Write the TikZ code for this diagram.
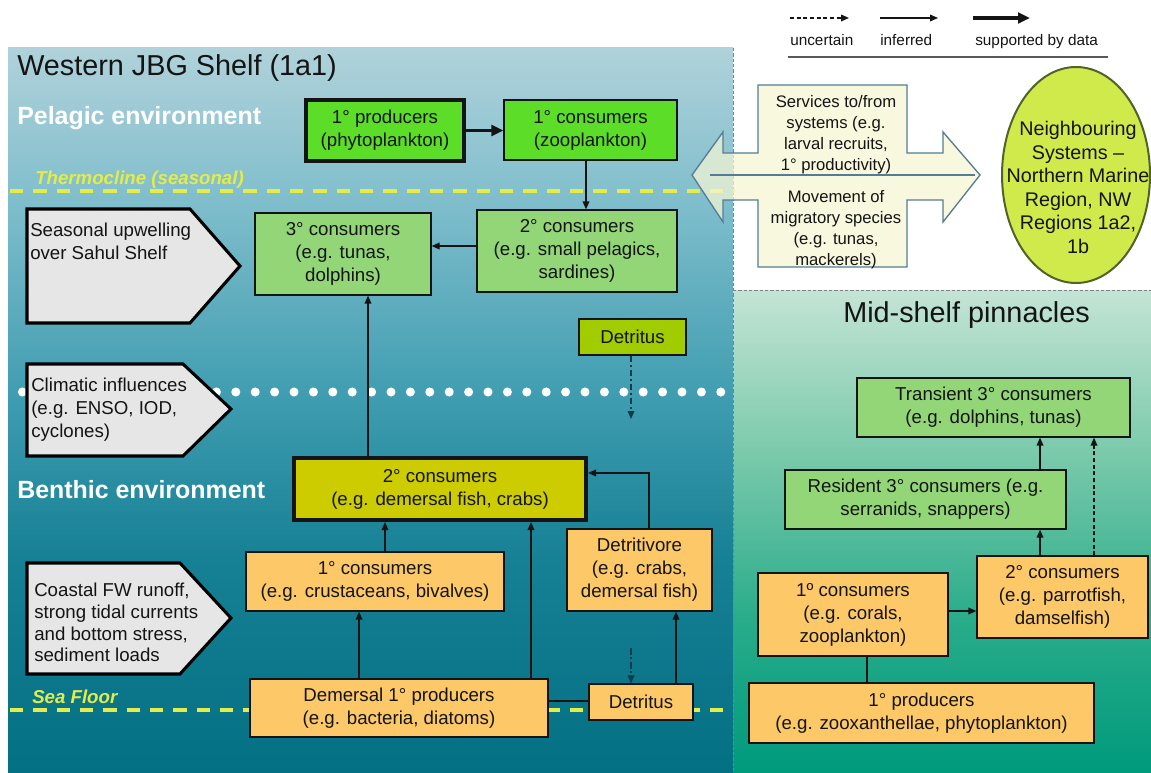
\documentclass[tikz,border=0pt]{standalone}
\usepackage{fontspec}
\setmainfont{Liberation Sans}
\usetikzlibrary{arrows.meta,calc,shapes.geometric}

% palette
\definecolor{ink}{RGB}{20,20,20}
\definecolor{brightgreen}{RGB}{92,222,40}
\definecolor{leafgreen}{RGB}{146,214,120}
\definecolor{sandy}{RGB}{252,200,104}
\definecolor{olivefill}{RGB}{204,204,0}
\definecolor{detritusgreen}{RGB}{160,204,0}
\definecolor{driverfill}{RGB}{230,230,230}
\definecolor{seayellow}{RGB}{228,236,72}
\definecolor{deepteal}{RGB}{10,60,75}
\definecolor{cream}{RGB}{246,246,212}
\definecolor{arrowblue}{RGB}{84,124,150}
\definecolor{nbrfill}{RGB}{208,234,76}
\definecolor{nbrline}{RGB}{82,98,40}
\definecolor{seaA}{RGB}{176,210,218}
\definecolor{seaB}{RGB}{128,190,204}
\definecolor{seaC}{RGB}{62,156,176}
\definecolor{seaD}{RGB}{22,128,148}
\definecolor{seaE}{RGB}{4,112,132}
\definecolor{pinA}{RGB}{196,228,214}
\definecolor{pinB}{RGB}{124,202,172}
\definecolor{pinC}{RGB}{40,172,138}
\definecolor{pinD}{RGB}{0,154,124}

% water-column backgrounds (25bp = bottom edge, 75bp = top edge of the filled area)
\pgfdeclareverticalshading{shelfsea}{100bp}{color(0bp)=(seaE); color(25bp)=(seaE);
  color(39.7bp)=(seaD); color(50.7bp)=(seaC); color(64.5bp)=(seaB);
  color(75bp)=(seaA); color(100bp)=(seaA)}
\pgfdeclareverticalshading{pinnsea}{100bp}{color(0bp)=(pinD); color(25bp)=(pinD);
  color(40.8bp)=(pinC); color(58.4bp)=(pinB); color(75bp)=(pinA); color(100bp)=(pinA)}

\tikzset{
  bx/.style={draw=ink, line width=0.9pt, inner sep=0pt, align=center,
    font=\fontsize{14}{17.25}\selectfont, text=ink},
  pgreen/.style={bx, fill=brightgreen},
  lgreen/.style={bx, fill=leafgreen},
  sand/.style={bx, fill=sandy},
  heavy/.style={line width=3pt},
  flow/.style={draw=ink, line width=1pt, -{Triangle[length=6pt,width=5pt]}},
  flowthick/.style={draw=ink, line width=2.8pt, -{Triangle[length=9pt,width=8pt]}},
  unsure/.style={flow, dash pattern=on 3pt off 2pt},
  dashdot/.style={flow, draw=deepteal, dash pattern=on 5pt off 2pt on 1.5pt off 2pt},
  link/.style={draw=ink, line width=1pt},
  driver/.style={draw=black, line width=2.3pt, fill=driverfill, line join=miter},
  drivertext/.style={anchor=north west, inner sep=0pt, align=left, text=ink,
    font=\fontsize{14}{17}\selectfont},
  yellowline/.style={draw=seayellow, line width=2.3pt, dash pattern=on 10pt off 7.5pt},
  yellowlabel/.style={text=seayellow, font=\fontsize{14}{17}\selectfont\bfseries\itshape,
    anchor=base west, inner sep=0pt},
  envlabel/.style={text=white, font=\fontsize{18.7}{22}\selectfont\bfseries,
    anchor=base west, inner sep=0pt},
  bigtitle/.style={text=ink, font=\fontsize{21.6}{26}\selectfont, anchor=base west, inner sep=0pt},
  legendtext/.style={text=ink, font=\fontsize{11.5}{14}\selectfont, anchor=base west, inner sep=0pt},
  smalltext/.style={text=ink, font=\fontsize{12.5}{15.75}\selectfont, align=center,
    anchor=north, inner sep=0pt},
  panelrule/.style={draw=gray, line width=0.6pt, dash pattern=on 2.5pt off 1.5pt},
}

\begin{document}
\begin{tikzpicture}[x=0.75pt,y=-0.75pt]
\path[use as bounding box] (0,0) rectangle (1151,773);
\clip (0,0) rectangle (1151,773);
\fill[white] (0,0) rectangle (1151,773);

% ---- panels ----
\shade[shading=shelfsea] (8,48) rectangle (733,773);
\shade[shading=pinnsea] (733,290) rectangle (1151,773);
\draw[panelrule] (733,48) -- (733,773);
\draw[panelrule] (733,290) -- (1151,290);

% ---- layer boundaries ----
\draw[yellowline] (10,191) -- (735,191);
\draw[yellowline] (10,710) -- (733,710);
\foreach \i in {0,...,37}
  \fill[white] (3+19.4*\i,392) circle[radius=3.4pt];

% ---- headings ----
\node[bigtitle] (shelf) at (17,76) {Western JBG Shelf (1a1)};
\node[envlabel] (pelagic) at (17,125) {Pelagic environment};
\node[yellowlabel] (thermo) at (35,185) {Thermocline (seasonal)};
\node[envlabel] (benthic) at (17,498) {Benthic environment};
\node[yellowlabel] (floor) at (32,703) {Sea Floor};
\node[bigtitle] (pinn) at (843,322) {Mid-shelf pinnacles};

% ---- external drivers ----
\draw[driver] (27,209) -- (190,209) -- (240,266) -- (190,323) -- (27,323) -- cycle;
\draw[driver] (27,364) -- (183,364) -- (231,409) -- (183,456) -- (27,456) -- cycle;
\draw[driver] (27,563) -- (180,563) -- (231,618) -- (180,674) -- (27,674) -- cycle;
\node[drivertext] (upw) at (30,223) {Seasonal upwelling\\over Sahul Shelf};
\node[drivertext] (clim) at (31,378) {Climatic influences\\(e.g. ENSO, IOD,\\cyclones)};
\node[drivertext, font=\fontsize{14}{16.3}\selectfont] (coast) at (34,583)
  {Coastal FW runoff,\\strong tidal currents\\and bottom stress,\\sediment loads};

% ---- legend ----
\coordinate (lu0) at (790,18);  \coordinate (lu1) at (849,18);
\coordinate (li0) at (880,18);  \coordinate (li1) at (938,18);
\coordinate (ls0) at (973,18);  \coordinate (ls1) at (1030,18);
\draw[unsure] (lu0) -- (lu1);
\draw[flow] (li0) -- (li1);
\draw[flowthick] (ls0) -- (ls1);
\node[legendtext] (lgu) at (790,46) {uncertain};
\node[legendtext] (lgi) at (880,46) {inferred};
\node[legendtext] (lgs) at (975,46) {supported by data};
\draw[gray!70!black, line width=1pt] (788,57) -- (1108,57);

% ---- exchange with neighbouring systems ----
\path[fill=cream, fill opacity=0.72, draw=arrowblue, line width=1pt, line join=miter]
  (692,175) -- (723,132) -- (723,153) -- (758,153) -- (758,85) -- (907,85)
  -- (907,153) -- (943,153) -- (943,132) -- (980,175) -- (943,222) -- (943,200)
  -- (907,200) -- (907,267) -- (758,267) -- (758,200) -- (723,200) -- (723,222) -- cycle;
\draw[arrowblue, line width=1pt] (710,175) -- (975,175);
\node[smalltext] (services) at (836,95)
  {Services to/from\\systems (e.g.\\larval recruits,\\1° productivity)};
\node[smalltext] (migr) at (836,190)
  {Movement of\\migratory species\\(e.g. tunas,\\mackerels)};

\node[draw=nbrline, line width=1.5pt, fill=nbrfill, ellipse, inner sep=0pt,
  minimum width=111pt, minimum height=162pt] (nbr) at (1076,175) {};
\node[anchor=north, inner sep=0pt, align=center, text=ink,
  font=\fontsize{14.8}{17.7}\selectfont] (nbrtext) at (1078,121)
  {Neighbouring\\Systems –\\Northern Marine\\Region, NW\\Regions 1a2,\\1b};

% ---- pelagic food web ----
\node[pgreen, heavy, minimum width=118.5pt, minimum height=45.75pt] (pprod) at (385,130.5)
  {1° producers\\(phytoplankton)};
\node[pgreen, minimum width=129.75pt, minimum height=45pt] (pzoo) at (590.5,130)
  {1° consumers\\(zooplankton)};
\node[lgreen, minimum width=150pt, minimum height=61.5pt] (psec) at (577,251)
  {2° consumers\\(e.g. small pelagics,\\sardines)};
\node[lgreen, minimum width=132pt, minimum height=61.5pt] (pter) at (343,254)
  {3° consumers\\(e.g. tunas,\\dolphins)};
\node[bx, fill=detritusgreen, minimum width=80.25pt, minimum height=27pt] (detup) at (632.5,337)
  {Detritus};

% ---- benthic food web ----
\node[bx, fill=olivefill, heavy, minimum width=219pt, minimum height=46.5pt] (bsec) at (440,489)
  {2° consumers\\(e.g. demersal fish, crabs)};
\node[sand, minimum width=193.5pt, minimum height=44.25pt] (bprim) at (375,581.5)
  {1° consumers\\(e.g. crustaceans, bivalves)};
\node[sand, minimum width=108.75pt, minimum height=61.5pt] (bdtv) at (639.5,570)
  {Detritivore\\(e.g. crabs,\\demersal fish)};
\node[sand, minimum width=223.5pt, minimum height=43.5pt] (bprod) at (399,708)
  {Demersal 1° producers\\(e.g. bacteria, diatoms)};
\node[sand, minimum width=78pt, minimum height=27pt] (bdet) at (641,702)
  {Detritus};

% ---- pinnacle food web ----
\node[lgreen, minimum width=204.75pt, minimum height=44.25pt] (mtrans) at (993.5,407.5)
  {Transient 3° consumers\\(e.g. dolphins, tunas)};
\node[lgreen, minimum width=210.75pt, minimum height=44.25pt] (mres) at (925.5,499.5)
  {Resident 3° consumers (e.g.\\serranids, snappers)};
\node[sand, minimum width=128.25pt, minimum height=61.5pt] (msec) at (1062.5,597)
  {2° consumers\\(e.g. parrotfish,\\damselfish)};
\node[sand, minimum width=142.5pt, minimum height=62.25pt] (mprim) at (853,614.5)
  {1º consumers\\(e.g. corals,\\zooplankton)};
\node[sand, minimum width=258.75pt, minimum height=45pt] (mprod) at (921.5,713)
  {1° producers\\(e.g. zooxanthellae, phytoplankton)};

% ---- pelagic links ----
\draw[flowthick] (pprod.east) -- (pzoo.west |- pprod.east);
\draw[flow] (pzoo.south -| 586,0) -- (psec.north -| 586,0);
\draw[flow] (psec.west |- 0,246) -- (pter.east |- 0,246);
\draw[flow] (bsec.north -| 368,0) -- (pter.south -| 368,0);
\coordinate (dropout) at (631,419);
\draw[dashdot] (detup.south -| dropout) -- (dropout);

% ---- benthic links ----
\draw[flow] (bprim.north -| 385,0) -- (bsec.south -| 385,0);
\draw[flow] (bprod.north -| 359,0) -- (bprim.south -| 359,0);
\draw[flow] (bprod.north -| 531,0) -- (bsec.south -| 531,0);
\draw[flow] (bdtv.north -| 649,0) |- (bsec.east |- 0,473);
\draw[flow] (bdet.north -| 676,0) -- (bdtv.south -| 676,0);
\draw[link] (bprod.east |- 0,701) -- (bdet.west |- 0,701);
\coordinate (dropin) at (631,648);
\draw[dashdot] (dropin) -- (bdet.north -| dropin);

% ---- pinnacle links ----
\draw[flow] (mprim.east |- 0,611) -- (msec.west |- 0,611);
\draw[flow] (msec.north -| 1040,0) -- (mres.south -| 1040,0);
\draw[flow] (mres.north -| 1040,0) -- (mtrans.south -| 1040,0);
\draw[unsure] (msec.north -| 1094,0) -- (mtrans.south -| 1094,0);
\draw[link] (mprim.south -| 867,0) -- (mprod.north -| 867,0);
\end{tikzpicture}
\end{document}
